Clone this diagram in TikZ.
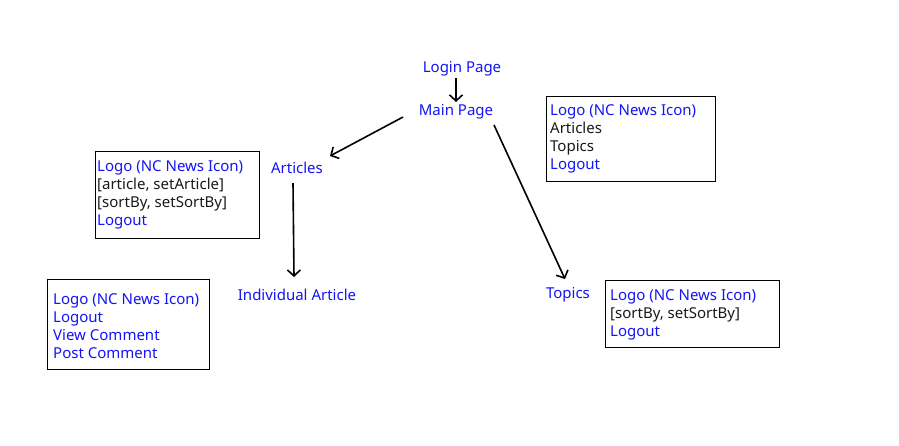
\documentclass[tikz,border=0pt]{standalone}
\usepackage{fontspec}
\setmainfont{Noto Sans}
\usetikzlibrary{arrows.meta}
\definecolor{lblue}{RGB}{20,20,245}
\definecolor{ltext}{RGB}{25,25,25}
\tikzset{
  lbl/.style={font=\fontsize{15}{18}\selectfont, text=lblue, inner sep=0pt},
  boxtext/.style={anchor=north west, inner sep=0pt, align=left, font=\fontsize{15}{18}\selectfont},
  frame/.style={line width=1pt},
  arr/.style={draw=black, line width=1.6pt, -{Straight Barb[length=6pt,width=13pt,line width=1.6pt]}}
}
\begin{document}
\begin{tikzpicture}[x=1pt,y=-1pt]
\useasboundingbox (0,0) rectangle (899,445);
\node[lbl] (login) at (462,69) {Login Page};
\node[lbl] (main) at (456,112) {Main Page};
\node[lbl] (articles) at (297,168) {Articles};
\node[lbl] (indiv) at (297,295) {Individual Article};
\node[lbl] (topics) at (568,295) {Topics};

\draw[arr] ([shift={(-6,9)}]login.center) -- ([shift={(0,-10)}]main.center);
\draw[arr] ([shift={(-53,5)}]main.center) -- ([shift={(33,-12)}]articles.center);
\draw[arr] ([shift={(-4,15)}]articles.center) -- ([shift={(-3,-18)}]indiv.center);
\draw[arr] ([shift={(38,13)}]main.center) -- ([shift={(-3,-16)}]topics.center);

\draw[frame] (546,96) rectangle (715,181);
\node[boxtext] (box1) at (550,104)
 {\textcolor{lblue}{Logo (NC News Icon)}\\ \textcolor{ltext}{Articles}\\ \textcolor{ltext}{Topics}\\ \textcolor{lblue}{Logout}};

\draw[frame] (95,151) rectangle (259,238);
\node[boxtext] (box2) at (97,160)
 {\textcolor{lblue}{Logo (NC News Icon)}\\ \textcolor{ltext}{[article, setArticle]}\\ \textcolor{ltext}{[sortBy, setSortBy]}\\ \textcolor{lblue}{Logout}};

\draw[frame] (47,279) rectangle (209,369);
\node[boxtext] (box3) at (53,293)
 {\textcolor{lblue}{Logo (NC News Icon)}\\ \textcolor{lblue}{Logout}\\ \textcolor{lblue}{View Comment}\\ \textcolor{lblue}{Post Comment}};

\draw[frame] (605,280) rectangle (779,347);
\node[boxtext] (box4) at (610,289)
 {\textcolor{lblue}{Logo (NC News Icon)}\\ \textcolor{ltext}{[sortBy, setSortBy]}\\ \textcolor{lblue}{Logout}};
\end{tikzpicture}
\end{document}
